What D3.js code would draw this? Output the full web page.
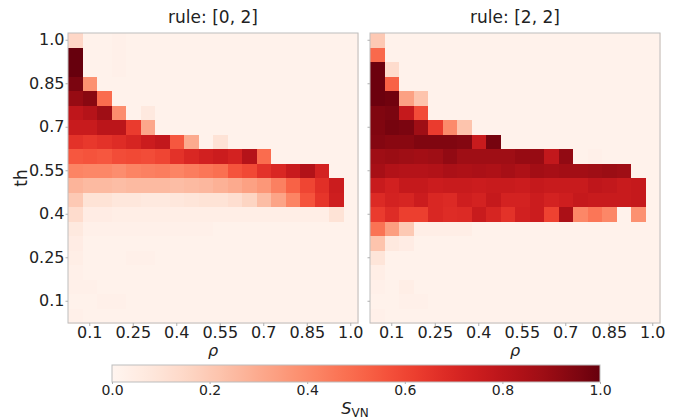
<!DOCTYPE html>
<html lang="en">
<head>
<meta charset="UTF-8" />
<title>rule heatmaps</title>
<style>
  body { margin: 0; background: #fff; }
  svg text { font-family: "DejaVu Sans", sans-serif; fill: #222; }
</style>
</head>
<body>
<svg id="svg" width="680" height="420"></svg>
<script src="https://d3js.org/d3.v7.min.js"></script>
<script>
// grid values (columns = rho, rows = th, top to bottom)
const rho = ["0.05", "0.1", "0.15", "0.2", "0.25", "0.3", "0.35", "0.4", "0.45", "0.5",
             "0.55", "0.6", "0.65", "0.7", "0.75", "0.8", "0.85", "0.9", "0.95", "1.0"];
const th = ["1.0", "0.95", "0.9", "0.85", "0.8", "0.75", "0.7", "0.65", "0.6", "0.55",
            "0.5", "0.45", "0.4", "0.35", "0.3", "0.25", "0.2", "0.15", "0.1", "0.05"];
const rhoTicks = ["0.1", "0.25", "0.4", "0.55", "0.7", "0.85", "1.0"];
const thTicks = ["1.0", "0.85", "0.7", "0.55", "0.4", "0.25", "0.1"];
const cbTicks = [0, 0.2, 0.4, 0.6, 0.8, 1.0];

// S_VN, rule [0, 2]
const rule02 = [
  [0.15,0.02,0.02,0.03,0.02,0.02,0.02,0.02,0.02,0.02,0.02,0.02,0.02,0.02,0.02,0.02,0.02,0.02,0.02,0.02],
  [1.00,0.02,0.02,0.03,0.02,0.02,0.02,0.02,0.02,0.02,0.02,0.02,0.02,0.02,0.02,0.02,0.02,0.02,0.02,0.02],
  [1.00,0.02,0.02,0.03,0.02,0.02,0.02,0.02,0.02,0.02,0.02,0.02,0.02,0.02,0.02,0.02,0.02,0.02,0.02,0.02],
  [0.96,0.38,0.02,0.02,0.02,0.02,0.02,0.02,0.02,0.02,0.02,0.02,0.02,0.02,0.02,0.02,0.02,0.02,0.02,0.02],
  [0.90,0.93,0.49,0.02,0.02,0.02,0.02,0.02,0.02,0.02,0.02,0.02,0.02,0.02,0.02,0.02,0.02,0.02,0.02,0.02],
  [0.79,0.82,0.88,0.39,0.02,0.07,0.02,0.02,0.02,0.02,0.02,0.02,0.02,0.02,0.02,0.02,0.02,0.02,0.02,0.02],
  [0.76,0.76,0.80,0.80,0.63,0.31,0.02,0.02,0.02,0.02,0.02,0.02,0.02,0.02,0.02,0.02,0.02,0.02,0.02,0.02],
  [0.66,0.64,0.66,0.68,0.71,0.75,0.78,0.55,0.30,0.02,0.10,0.02,0.02,0.02,0.02,0.02,0.02,0.02,0.02,0.02],
  [0.55,0.56,0.55,0.58,0.59,0.58,0.60,0.66,0.70,0.73,0.75,0.72,0.82,0.49,0.02,0.02,0.02,0.02,0.02,0.02],
  [0.42,0.41,0.41,0.39,0.42,0.43,0.44,0.42,0.44,0.46,0.48,0.56,0.59,0.66,0.70,0.76,0.83,0.72,0.02,0.02],
  [0.27,0.25,0.25,0.24,0.25,0.25,0.25,0.24,0.25,0.26,0.28,0.30,0.33,0.36,0.43,0.52,0.60,0.67,0.75,0.02],
  [0.20,0.10,0.10,0.08,0.08,0.07,0.07,0.08,0.09,0.10,0.10,0.12,0.16,0.24,0.32,0.42,0.56,0.65,0.74,0.02],
  [0.13,0.05,0.05,0.04,0.04,0.04,0.04,0.04,0.04,0.04,0.04,0.04,0.04,0.04,0.04,0.04,0.04,0.04,0.10,0.02],
  [0.07,0.03,0.03,0.03,0.03,0.03,0.03,0.03,0.03,0.03,0.02,0.02,0.02,0.02,0.02,0.02,0.02,0.02,0.02,0.02],
  [0.05,0.02,0.02,0.02,0.02,0.02,0.02,0.02,0.02,0.02,0.02,0.02,0.02,0.02,0.02,0.02,0.02,0.02,0.02,0.02],
  [0.04,0.02,0.02,0.02,0.03,0.03,0.02,0.02,0.02,0.02,0.02,0.02,0.02,0.02,0.02,0.02,0.02,0.02,0.02,0.02],
  [0.03,0.02,0.02,0.02,0.02,0.02,0.02,0.02,0.02,0.02,0.02,0.02,0.02,0.02,0.02,0.02,0.02,0.02,0.02,0.02],
  [0.03,0.03,0.02,0.02,0.02,0.02,0.02,0.02,0.02,0.02,0.02,0.02,0.02,0.02,0.02,0.02,0.02,0.02,0.02,0.02],
  [0.02,0.02,0.03,0.03,0.02,0.02,0.02,0.02,0.02,0.02,0.02,0.02,0.02,0.02,0.02,0.02,0.02,0.02,0.02,0.02],
  [0.03,0.02,0.02,0.02,0.02,0.02,0.02,0.02,0.02,0.02,0.02,0.02,0.02,0.02,0.02,0.02,0.02,0.02,0.02,0.02]
];

// S_VN, rule [2, 2]
const rule22 = [
  [0.20,0.02,0.02,0.02,0.02,0.02,0.02,0.02,0.02,0.02,0.02,0.02,0.02,0.02,0.02,0.02,0.02,0.02,0.02,0.02],
  [0.50,0.02,0.02,0.02,0.02,0.02,0.02,0.02,0.02,0.02,0.02,0.02,0.02,0.02,0.02,0.02,0.02,0.02,0.02,0.02],
  [0.99,0.13,0.02,0.02,0.02,0.02,0.02,0.02,0.02,0.02,0.02,0.02,0.02,0.02,0.02,0.02,0.02,0.02,0.02,0.02],
  [0.99,0.52,0.02,0.02,0.02,0.02,0.02,0.02,0.02,0.02,0.02,0.02,0.02,0.02,0.02,0.02,0.02,0.02,0.02,0.02],
  [0.99,0.98,0.33,0.22,0.02,0.02,0.02,0.02,0.02,0.02,0.02,0.02,0.02,0.02,0.02,0.02,0.02,0.02,0.02,0.02],
  [0.95,0.96,0.77,0.58,0.02,0.02,0.02,0.02,0.02,0.02,0.02,0.02,0.02,0.02,0.02,0.02,0.02,0.02,0.02,0.02],
  [0.95,0.97,0.96,0.88,0.63,0.40,0.22,0.02,0.02,0.02,0.02,0.02,0.02,0.02,0.02,0.02,0.02,0.02,0.02,0.02],
  [0.94,0.93,0.93,0.95,0.95,0.95,0.94,0.76,0.97,0.02,0.02,0.02,0.02,0.02,0.02,0.02,0.02,0.02,0.02,0.02],
  [0.88,0.89,0.88,0.87,0.88,0.91,0.88,0.88,0.88,0.88,0.90,0.90,0.78,0.91,0.02,0.03,0.02,0.02,0.02,0.02],
  [0.86,0.83,0.82,0.82,0.83,0.85,0.84,0.85,0.84,0.86,0.84,0.87,0.86,0.87,0.87,0.88,0.89,0.88,0.02,0.02],
  [0.76,0.73,0.77,0.77,0.75,0.76,0.76,0.75,0.76,0.76,0.75,0.77,0.76,0.76,0.76,0.79,0.78,0.76,0.77,0.02],
  [0.69,0.72,0.71,0.75,0.70,0.69,0.74,0.72,0.77,0.72,0.72,0.75,0.72,0.74,0.77,0.76,0.76,0.76,0.77,0.02],
  [0.63,0.68,0.62,0.62,0.70,0.68,0.69,0.76,0.71,0.66,0.73,0.75,0.61,0.85,0.41,0.46,0.41,0.02,0.38,0.02],
  [0.47,0.34,0.20,0.04,0.04,0.04,0.04,0.02,0.02,0.02,0.02,0.02,0.02,0.02,0.02,0.02,0.02,0.02,0.02,0.02],
  [0.22,0.07,0.05,0.02,0.02,0.02,0.02,0.02,0.02,0.02,0.02,0.02,0.02,0.02,0.02,0.02,0.02,0.02,0.02,0.02],
  [0.09,0.02,0.02,0.02,0.02,0.02,0.02,0.02,0.02,0.02,0.02,0.02,0.02,0.02,0.02,0.02,0.02,0.02,0.02,0.02],
  [0.04,0.02,0.02,0.02,0.02,0.02,0.02,0.02,0.02,0.02,0.02,0.02,0.02,0.02,0.02,0.02,0.02,0.02,0.02,0.02],
  [0.03,0.02,0.04,0.02,0.02,0.02,0.02,0.02,0.02,0.02,0.02,0.02,0.02,0.02,0.02,0.02,0.02,0.02,0.02,0.02],
  [0.02,0.02,0.03,0.03,0.02,0.02,0.02,0.02,0.02,0.02,0.02,0.02,0.02,0.02,0.02,0.02,0.02,0.02,0.02,0.02],
  [0.03,0.02,0.02,0.02,0.02,0.02,0.02,0.02,0.02,0.02,0.02,0.02,0.02,0.02,0.02,0.02,0.02,0.02,0.02,0.02]
];

const panels = [
  { title: "rule: [0, 2]", values: rule02, left: 68 },
  { title: "rule: [2, 2]", values: rule22, left: 370 }
];

const svg = d3.select("#svg");
const plotTop = 33, size = 290;
const color = d3.scaleSequential(d3.interpolateReds).domain([0, 1]);
const tickGray = "#b0b0b0";

const y = d3.scaleBand().domain(th).range([plotTop, plotTop + size]);

panels.forEach((p, k) => {
  const x = d3.scaleBand().domain(rho).range([p.left, p.left + size]);
  const g = svg.append("g");

  // cells
  p.values.forEach((row, i) => {
    g.selectAll(null)
      .data(row)
      .enter()
      .append("rect")
      .attr("x", (d, j) => x(rho[j]))
      .attr("y", y(th[i]))
      .attr("width", x.bandwidth() + 0.5)
      .attr("height", y.bandwidth() + 0.5)
      .attr("shape-rendering", "crispEdges")
      .attr("fill", (d) => color(d));
  });

  // frame
  g.append("rect")
    .attr("x", p.left).attr("y", plotTop)
    .attr("width", size).attr("height", size)
    .attr("fill", "none").attr("stroke", "#bdbdbd").attr("stroke-width", 1);

  // x axis
  const xa = g.append("g")
    .attr("transform", `translate(0,${plotTop + size})`)
    .call(d3.axisBottom(x).tickValues(rhoTicks).tickSize(3).tickPadding(1));
  xa.select(".domain").remove();
  xa.selectAll(".tick line").attr("stroke", tickGray);
  xa.selectAll(".tick text").style("font-size", "16px").attr("fill", "#222");

  // y axis
  const ya = g.append("g")
    .attr("transform", `translate(${p.left},0)`)
    .call(d3.axisLeft(y).tickValues(thTicks).tickSize(2.5).tickPadding(1));
  ya.select(".domain").remove();
  ya.selectAll(".tick line").attr("stroke", tickGray);
  ya.selectAll(".tick text").style("font-size", "16px").attr("fill", "#222");
  if (k > 0) ya.selectAll(".tick text").remove();

  // title
  g.append("text")
    .attr("x", p.left + size / 2).attr("y", 23)
    .attr("text-anchor", "middle")
    .style("font-size", "17px")
    .text(p.title);

  // x label
  g.append("text")
    .attr("x", p.left + size / 2).attr("y", 356)
    .attr("text-anchor", "middle")
    .style("font-size", "16px").style("font-style", "italic")
    .text("ρ");
});

// y label
svg.append("text")
  .attr("transform", `translate(27,${plotTop + size / 2}) rotate(-90)`)
  .attr("text-anchor", "middle")
  .style("font-size", "17px")
  .text("th");

// colorbar
const cbX0 = 112, cbX1 = 600, cbY = 365, cbH = 17;
const defs = svg.append("defs");
const grad = defs.append("linearGradient").attr("id", "cbgrad");
grad.selectAll("stop")
  .data(d3.range(0, 1.0001, 0.02))
  .enter()
  .append("stop")
  .attr("offset", (d) => d)
  .attr("stop-color", (d) => color(d));

svg.append("rect")
  .attr("x", cbX0).attr("y", cbY)
  .attr("width", cbX1 - cbX0).attr("height", cbH)
  .attr("fill", "url(#cbgrad)")
  .attr("stroke", "#bdbdbd").attr("stroke-width", 1);

const cbScale = d3.scaleLinear().domain([0, 1]).range([cbX0, cbX1]);
const cba = svg.append("g")
  .attr("transform", `translate(0,${cbY + cbH})`)
  .call(d3.axisBottom(cbScale).tickValues(cbTicks).tickFormat(d3.format(".1f")).tickSize(2).tickPadding(1));
cba.select(".domain").remove();
cba.selectAll(".tick line").attr("stroke", tickGray);
cba.selectAll(".tick text").style("font-size", "14px").attr("fill", "#222");

const lab = svg.append("text")
  .attr("x", 355).attr("y", 414)
  .attr("text-anchor", "middle")
  .style("font-size", "16px");
lab.append("tspan").style("font-style", "italic").text("S");
lab.append("tspan").attr("dy", 3).style("font-size", "12px").text("VN");
</script>
</body>
</html>
